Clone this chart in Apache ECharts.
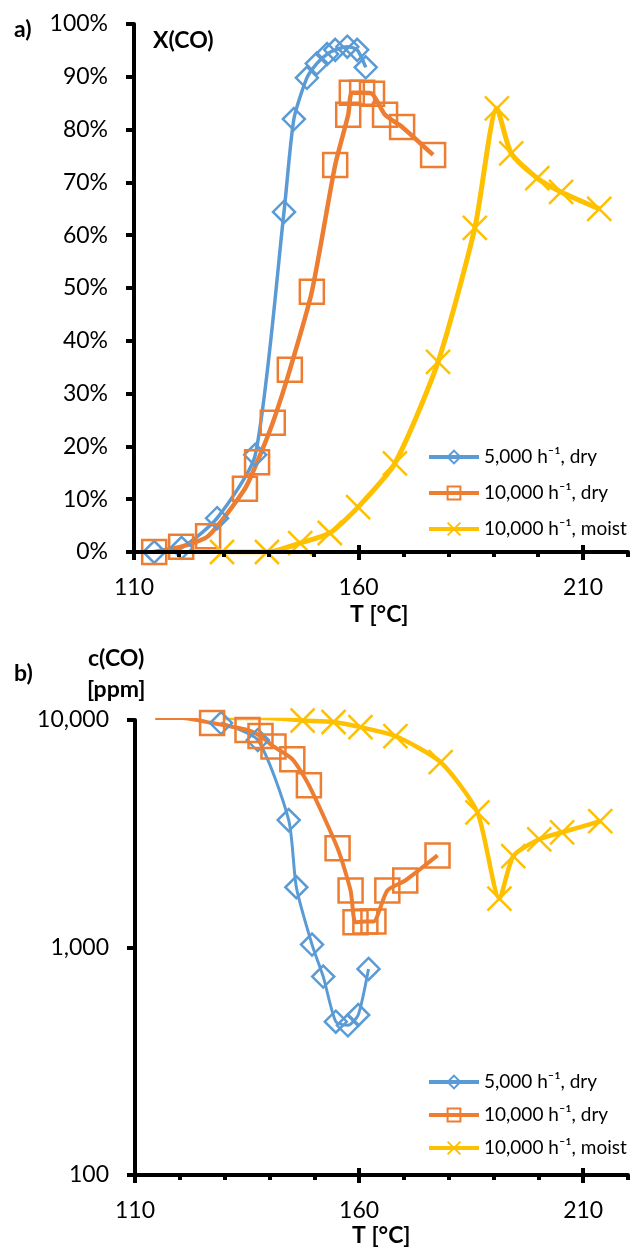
<!DOCTYPE html>
<html><head><meta charset="utf-8">
<script src="https://cdn.jsdelivr.net/npm/echarts@6/dist/echarts.min.js"></script>
<style>html,body{margin:0;padding:0;background:#fff}#c{width:631px;height:1256px}</style>
</head><body><div id="c"></div>
<script>
// ---- data ----
const seriesNames = ['5,000 h\u207B\u00B9, dry', '10,000 h\u207B\u00B9, dry', '10,000 h\u207B\u00B9, moist'];
// a) conversion X(CO) [%]
const blueT_a = [114.5, 120.6, 128.5, 137, 143.4, 145.6, 148.5, 150.7, 153, 154.8, 157.5, 159.7, 161.6];
const blueX_a = [0, 0.8, 6.4, 18.4, 64.4, 82, 89.8, 92.5, 94.3, 95.1, 95.7, 95.1, 91.8];
const orangeT_a = [114.5, 120.5, 126.5, 134.7, 137.4, 140.9, 144.7, 149.6, 154.8, 157.7, 158.5, 160.8, 163, 165.9, 169.7, 176.6];
const orangeX_a = [0, 1, 3, 12, 17, 24.5, 34.5, 49.3, 73.3, 82.8, 87, 87, 86.8, 82.8, 80.5, 75.2];
const yellowT_a = [129.6, 139.6, 147, 153.6, 159.9, 168.1, 177.7, 185.9, 190.8, 194, 199.8, 205.1, 213.6];
const yellowX_a = [0, 0, 1.7, 3.6, 8.5, 16.8, 36, 61.4, 84, 75.5, 70.8, 68.2, 65];
// b) concentration c(CO) [ppm]
const blueT_b = [129.2, 137.4, 144.3, 146, 149.5, 152, 154.8, 157.5, 159.8, 162.1];
const blueC_b = [9700, 8160, 3630, 1840, 1030, 745, 472, 455, 505, 805];
const orangeT_b = [114.5, 120.5, 127.2, 135.1, 138, 140.9, 145.1, 148.8, 155.2, 158.1, 159.2, 161.4, 163.2, 166.3, 170.3, 177.5];
const orangeC_b = [10200, 10200, 9700, 9040, 8500, 7650, 6730, 5170, 2730, 1780, 1290, 1300, 1300, 1780, 1970, 2540];
const yellowT_b = [129.6, 139.6, 147.4, 154.3, 160.3, 168.1, 178.2, 186.4, 191.3, 194.4, 200.2, 205.3, 213.8];
const yellowC_b = [10200, 10200, 9950, 9800, 9300, 8500, 6530, 3930, 1640, 2520, 2990, 3210, 3590];
// axis tick values
const xMajor = [110, 160, 210];
const xMinor = [120, 130, 140, 150, 170, 180, 190, 200, 220];
const yTicksB = [100, 1000, 10000];

// ---- styling ----
const FONT = 'Lato, "Noto Sans", sans-serif';
const BLUE = '#5B9BD5', ORANGE = '#ED7D31', YELLOW = '#FFC000';
const X_PATH = 'path://M0,0L10,10M10,0L0,10';
const NOFILL = 'rgba(255,255,255,0)';

function pts(T, V) {
  return T.map((t, i) => V[i] >= 10000 ? { value: [t, V[i]], symbol: 'none' } : [t, V[i]]);
}

function xAxes(grid) {
  const base = { type: 'value', gridIndex: grid, min: 110, max: 220, position: 'bottom', splitLine: { show: false }, z: 3 };
  return [
    Object.assign({}, base, {
      axisLine: { show: true, onZero: false, lineStyle: { color: '#000', width: 4 } },
      axisTick: { show: true, customValues: xMajor, length: 8, lineStyle: { color: '#000', width: 4 } },
      axisLabel: { show: true, customValues: xMajor, fontSize: 23, fontFamily: FONT, color: '#000', margin: 24 }
    }),
    Object.assign({}, base, {
      axisLine: { show: false, onZero: false },
      axisTick: { show: true, customValues: xMinor, length: 5, lineStyle: { color: '#000', width: 4 } },
      axisLabel: { show: false }
    }),
    Object.assign({}, base, {
      axisLine: { show: false, onZero: false },
      axisTick: { show: true, inside: true, customValues: xMajor, length: 7, lineStyle: { color: '#000', width: 4 } },
      axisLabel: { show: false }
    })
  ];
}

function mk(name, xi, yi, data, kind, lw) {
  const s = { name: name, type: 'line', xAxisIndex: xi, yAxisIndex: yi, data: data, smooth: 0.22,
    showAllSymbol: true, clip: true, z: 2,
    lineStyle: { width: lw }, emphasis: { disabled: true } };
  if (kind === 0) {
    Object.assign(s, { symbol: 'diamond', symbolSize: 22,
      lineStyle: { width: lw, color: BLUE }, itemStyle: { color: NOFILL, borderColor: BLUE, borderWidth: 2.5 } });
  } else if (kind === 1) {
    Object.assign(s, { symbol: 'rect', symbolSize: 24,
      lineStyle: { width: lw, color: ORANGE }, itemStyle: { color: NOFILL, borderColor: ORANGE, borderWidth: 2.5 } });
  } else {
    Object.assign(s, { symbol: X_PATH, symbolSize: 24,
      lineStyle: { width: lw, color: YELLOW }, itemStyle: { color: NOFILL, borderColor: YELLOW, borderWidth: 2.5 } });
  }
  return s;
}

const chart = echarts.init(document.getElementById('c'), null, { renderer: 'canvas' });
const legendBase = { orient: 'vertical', left: 422, itemWidth: 50, itemHeight: 16, data: seriesNames,
  lineStyle: { width: 4 },
  textStyle: { fontSize: 19, fontFamily: FONT, color: '#000', lineHeight: 22 }, selectedMode: false };

chart.setOption({
  animation: false,
  grid: [
    { left: 134, top: 24, width: 494, height: 528 },
    { left: 135, top: 720, width: 493, height: 455 }
  ],
  xAxis: xAxes(0).concat(xAxes(1)),
  yAxis: [
    { type: 'value', gridIndex: 0, min: 0, max: 100, interval: 10, z: 3,
      axisLine: { show: true, onZero: false, lineStyle: { color: '#000', width: 4 } },
      axisTick: { show: true, length: 8, lineStyle: { color: '#000', width: 4 } },
      axisLabel: { formatter: '{value}%', fontSize: 23, fontFamily: FONT, color: '#000', margin: 26 },
      splitLine: { show: false } },
    { type: 'log', gridIndex: 1, logBase: 10, min: 100, max: 10000, z: 3,
      axisLine: { show: true, onZero: false, lineStyle: { color: '#000', width: 4 } },
      axisTick: { show: true, customValues: yTicksB, length: 8, lineStyle: { color: '#000', width: 4 } },
      axisLabel: { customValues: yTicksB, formatter: v => Number(v).toLocaleString('en-US'), fontSize: 23, fontFamily: FONT, color: '#000', margin: 26 },
      splitLine: { show: false }, minorTick: { show: false } }
  ],
  legend: [
    Object.assign({}, legendBase, { top: 441, itemGap: 14 }),
    Object.assign({}, legendBase, { top: 1066, itemGap: 11 })
  ],
  series: [
    mk(seriesNames[0], 0, 0, pts(blueT_a, blueX_a), 0, 3.5),
    mk(seriesNames[1], 0, 0, pts(orangeT_a, orangeX_a), 1, 4.5),
    mk(seriesNames[2], 0, 0, pts(yellowT_a, yellowX_a), 2, 5),
    mk(seriesNames[0], 3, 1, pts(blueT_b, blueC_b), 0, 3),
    mk(seriesNames[1], 3, 1, pts(orangeT_b, orangeC_b), 1, 4),
    mk(seriesNames[2], 3, 1, pts(yellowT_b, yellowC_b), 2, 4.5)
  ],
  graphic: [
    { type: 'text', left: 14, top: 18, style: { text: 'a)', font: 'bold 23px ' + FONT, fill: '#000' } },
    { type: 'text', left: 153, top: 29, style: { text: 'X(CO)', font: 'bold 23px ' + FONT, fill: '#000' } },
    { type: 'text', left: 350, top: 603, style: { text: 'T [\u00B0C]', font: 'bold 23px ' + FONT, fill: '#000' } },
    { type: 'text', left: 14, top: 662, style: { text: 'b)', font: 'bold 23px ' + FONT, fill: '#000' } },
    { type: 'text', left: 88, top: 647, style: { text: 'c(CO)', font: 'bold 23px ' + FONT, fill: '#000' } },
    { type: 'text', left: 87, top: 678, style: { text: '[ppm]', font: 'bold 23px ' + FONT, fill: '#000' } },
    { type: 'text', left: 352, top: 1224, style: { text: 'T [\u00B0C]', font: 'bold 23px ' + FONT, fill: '#000' } }
  ]
});
</script></body></html>
